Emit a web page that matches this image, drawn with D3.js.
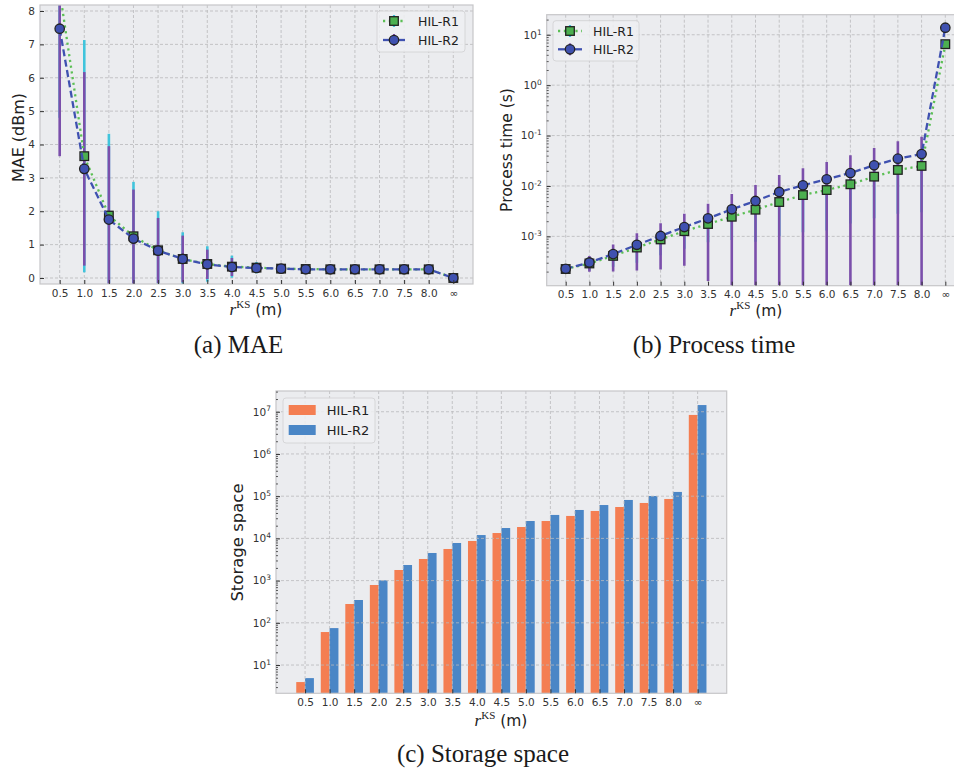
<!DOCTYPE html>
<html lang="en">
<head>
<meta charset="UTF-8">
<title>HIL-R1 / HIL-R2</title>
<script src="https://d3js.org/d3.v7.min.js"></script>
<style>
  body { margin: 0; background: #fff; }
</style>
</head>
<body>
<svg id="canvas" font-family='"DejaVu Sans", sans-serif'></svg>
<script>
// category labels of r^KS
let rLabels = ['0.5','1.0','1.5','2.0','2.5','3.0','3.5','4.0','4.5','5.0','5.5','6.0','6.5','7.0','7.5','8.0','\u221e']

// (a) MAE (dBm), mean and std
let maeR1    = [8.6, 3.65, 1.87, 1.25, 0.83, 0.57, 0.42, 0.34, 0.31, 0.28, 0.27, 0.26, 0.26, 0.26, 0.26, 0.26, 0.0]
let maeR1Std = [3.8, 3.48, 2.45, 1.63, 1.17, 0.80, 0.53, 0.33, 0.17, 0.10, 0.07, 0.05, 0.04, 0.04, 0.04, 0.04, 0.0]
let maeR2    = [7.47, 3.27, 1.75, 1.18, 0.82, 0.57, 0.41, 0.33, 0.30, 0.28, 0.26, 0.26, 0.26, 0.26, 0.26, 0.26, 0.0]
let maeR2Std = [3.82, 2.90, 2.20, 1.47, 0.98, 0.70, 0.44, 0.27, 0.12, 0.08, 0.06, 0.05, 0.04, 0.04, 0.04, 0.04, 0.0]
let maeTicks = [0, 1, 2, 3, 4, 5, 6, 7, 8]

// (b) process time (s), mean and std
let timeR1    = [2.25e-4, 2.9e-4, 4.1e-4, 6.0e-4, 8.7e-4, 1.27e-3, 1.76e-3, 2.45e-3, 3.38e-3, 4.8e-3, 6.6e-3, 8.3e-3, 1.08e-2, 1.53e-2, 2.08e-2, 2.5e-2, 6.5]
let timeR1Std = [0.2e-4, 0.8e-4, 1.6e-4, 3.0e-4, 4.5e-4, 7e-4, 1.0e-3, 1.6e-3, 2.6e-3, 3.8e-3, 5.4e-3, 7e-3, 9e-3, 1.3e-2, 1.8e-2, 2.2e-2, 0.5]
let timeR2    = [2.27e-4, 3.04e-4, 4.45e-4, 6.8e-4, 1.02e-3, 1.53e-3, 2.28e-3, 3.44e-3, 5.04e-3, 7.6e-3, 1.03e-2, 1.36e-2, 1.81e-2, 2.57e-2, 3.48e-2, 4.3e-2, 13.8]
let timeR2Std = [0.2e-4, 1.06e-4, 2.45e-4, 4.7e-4, 0.8e-3, 1.27e-3, 2.15e-3, 3.5e-3, 5.4e-3, 8.9e-3, 1.22e-2, 1.64e-2, 2.24e-2, 3.1e-2, 4.2e-2, 5.2e-2, 1.0]
let timeTicks = [1e-3, 1e-2, 1e-1, 1, 10]

// (c) storage space
let storageR1 = [3.95, 60.5, 279, 787, 1784, 3250, 5610, 8680, 13400, 18600, 25800, 34000, 44600, 55400, 69000, 85900, 8.4e6]
let storageR2 = [4.9, 75, 347, 1016, 2340, 4510, 7780, 12000, 17600, 25800, 35900, 47100, 61700, 81300, 1.01e5, 1.26e5, 1.44e7]
let storageTicks = [10, 1e2, 1e3, 1e4, 1e5, 1e6, 1e7]

let seriesNames = ['HIL-R1', 'HIL-R2']

let width = 954
let height = 771
let bg = '#ebecef'
let gridColor = '#b9b9bb'
let green = '#4caf50'
let greenLine = '#5cbf55'
let blue = '#3f51b0'
let purple = '#7b4fab'
let cyan = '#40c4dc'
let barOrange = '#f47e52'
let barBlue = '#4a86c6'
let serif = '"Liberation Serif", "Times New Roman", serif'

let svg = d3.select('#canvas').attr('width', width).attr('height', height)
let defs = svg.append('defs')

let makeFrame = (id, box) => {
  defs.append('clipPath').attr('id', id)
      .append('rect')
      .attr('x', box.left).attr('y', box.top)
      .attr('width', box.right - box.left).attr('height', box.bottom - box.top)
  let g = svg.append('g')
  g.append('rect')
   .attr('x', box.left).attr('y', box.top)
   .attr('width', box.right - box.left).attr('height', box.bottom - box.top)
   .attr('fill', bg)
  return g
}

let drawSpines = (g, box) => {
  g.append('rect')
   .attr('x', box.left).attr('y', box.top)
   .attr('width', box.right - box.left).attr('height', box.bottom - box.top)
   .attr('fill', 'none').attr('stroke', '#c6c6c8').attr('stroke-width', 1.2)
}

let drawGrid = (g, box, x, y, yTicks, id) => {
  let grid = g.append('g').attr('clip-path', 'url(#' + id + ')')
  grid.selectAll(null).data(d3.range(rLabels.length)).join('line')
      .attr('x1', i => x(i)).attr('x2', i => x(i))
      .attr('y1', box.top).attr('y2', box.bottom)
  grid.selectAll(null).data(yTicks).join('line')
      .attr('x1', box.left).attr('x2', box.right)
      .attr('y1', d => y(d)).attr('y2', d => y(d))
  grid.selectAll('line')
      .attr('stroke', gridColor).attr('stroke-width', 0.8).attr('stroke-dasharray', '3,2')
}

let styleAxis = (a) => {
  a.select('.domain').remove()
  a.attr('font-family', null)
  a.selectAll('.tick line').attr('stroke', '#333').attr('stroke-width', 1)
  a.selectAll('.tick text').attr('fill', '#333').attr('font-size', 10.5)
}

let makeXAxis = (g, box, x, pad) => {
  let a = g.append('g')
           .attr('transform', 'translate(0,' + box.bottom + ')')
           .call(d3.axisBottom(x).tickValues(d3.range(rLabels.length))
                   .tickFormat(i => rLabels[i]).tickSize(-4).tickPadding(pad))
  styleAxis(a)
}

let makeLogYAxis = (g, box, y, ticks) => {
  let [lo, hi] = y.domain()
  let minor = []
  for (let e = Math.floor(Math.log10(lo)); e <= Math.ceil(Math.log10(hi)); e++) {
    for (let m = 2; m < 10; m++) {
      let v = m * Math.pow(10, e)
      if (v >= lo && v <= hi) minor.push(v)
    }
  }
  let am = g.append('g').attr('transform', 'translate(' + box.left + ',0)')
            .call(d3.axisLeft(y).tickValues(minor).tickFormat('').tickSize(-2))
  styleAxis(am)
  am.selectAll('.tick line').attr('stroke-width', 0.8)
  let a = g.append('g').attr('transform', 'translate(' + box.left + ',0)')
           .call(d3.axisLeft(y).tickValues(ticks).tickSize(-4).tickPadding(5))
  styleAxis(a)
  a.selectAll('.tick text').each(function (d) {
    let t = d3.select(this)
    let e = Math.round(Math.log10(d))
    t.text('')
    t.append('tspan').text('10')
    t.append('tspan').attr('font-size', 7.5).attr('dy', '-0.55em').text(e < 0 ? '-' + (-e) : e)
  })
}

let xLabel = (g, cx, yPos) => {
  let t = g.append('text').attr('x', cx).attr('y', yPos).attr('text-anchor', 'middle').attr('fill', '#222')
  t.append('tspan').attr('font-family', serif).attr('font-style', 'italic')
   .attr('font-size', 17).text('r')
  t.append('tspan').attr('font-family', serif)
   .attr('font-size', 11).attr('dy', -7).text('KS')
  t.append('tspan').attr('font-size', 15.5).attr('dy', 7).text('\u00a0(m)')
}

let yLabel = (g, xPos, cy, text, size) => {
  g.append('text')
   .attr('transform', 'translate(' + xPos + ',' + cy + ') rotate(-90)')
   .attr('text-anchor', 'middle').attr('font-size', size).attr('fill', '#222')
   .text(text)
}

let caption = (cx, yPos, text) => {
  svg.append('text').attr('x', cx).attr('y', yPos).attr('text-anchor', 'middle')
     .attr('font-family', serif)
     .attr('font-size', 25).attr('fill', '#1a1a1a')
     .text(text)
}

let errBars = (g, x, y, means, stds, color, floor) => {
  g.selectAll(null).data(means).join('line')
   .attr('x1', (d, i) => x(i)).attr('x2', (d, i) => x(i))
   .attr('y1', (d, i) => y(Math.max(d - stds[i], floor)))
   .attr('y2', (d, i) => y(d + stds[i]))
   .attr('stroke', color).attr('stroke-width', 2.6)
}

let drawSeries = (g, x, y, vals, kind) => {
  let line = d3.line().x((d, i) => x(i)).y(d => y(d))
  g.append('path').datum(vals).attr('d', line).attr('fill', 'none')
   .attr('stroke', kind == 'square' ? greenLine : blue)
   .attr('stroke-width', 2.3)
   .attr('stroke-dasharray', kind == 'square' ? '2.2,3.6' : '7,3.5')
  if (kind == 'square') {
    g.selectAll(null).data(vals).join('rect')
     .attr('x', (d, i) => x(i) - 4.3).attr('y', d => y(d) - 4.3)
     .attr('width', 8.6).attr('height', 8.6)
     .attr('fill', green).attr('stroke', '#222').attr('stroke-width', 1.3)
  } else {
    g.selectAll(null).data(vals).join('circle')
     .attr('cx', (d, i) => x(i)).attr('cy', d => y(d)).attr('r', 4.7)
     .attr('fill', blue).attr('stroke', '#222').attr('stroke-width', 1.3)
  }
}

let lineLegend = (g, lx, ly, w, h, rows, sx0, sx1, tx) => {
  g.append('rect').attr('x', lx).attr('y', ly).attr('width', w).attr('height', h)
   .attr('rx', 3).attr('fill', '#eef0f2').attr('fill-opacity', 0.85)
   .attr('stroke', '#d6d6d8').attr('stroke-width', 1)
  let kinds = ['square', 'circle']
  let errColors = [cyan, purple]
  rows.forEach((ry, k) => {
    let mx = (sx0 + sx1) / 2
    g.append('line').attr('x1', mx).attr('x2', mx).attr('y1', ry - 6).attr('y2', ry + 6)
     .attr('stroke', errColors[k]).attr('stroke-width', 2.2)
    g.append('line').attr('x1', sx0).attr('x2', sx1).attr('y1', ry).attr('y2', ry)
     .attr('stroke', k == 0 ? greenLine : blue).attr('stroke-width', 2.3)
     .attr('stroke-dasharray', k == 0 ? '2.2,3.6' : null)
    if (kinds[k] == 'square') {
      g.append('rect').attr('x', mx - 4.3).attr('y', ry - 4.3).attr('width', 8.6).attr('height', 8.6)
       .attr('fill', green).attr('stroke', '#222').attr('stroke-width', 1.3)
    } else {
      g.append('circle').attr('cx', mx).attr('cy', ry).attr('r', 4.7)
       .attr('fill', blue).attr('stroke', '#222').attr('stroke-width', 1.3)
    }
    g.append('text').attr('x', tx).attr('y', ry).attr('dy', '0.36em')
     .attr('font-size', 12.5).attr('fill', '#222').text(seriesNames[k])
  })
}

// ---------- (a) MAE ----------
let makeMae = () => {
  let box = {left: 40, right: 473, top: 5, bottom: 284}
  let g = makeFrame('clipA', box)
  let x = d3.scaleLinear().domain([-0.8, 16.8]).range([box.left, box.right])
  let y = d3.scaleLinear().domain([-0.18, 8.18]).range([box.bottom, box.top])
  drawGrid(g, box, x, y, maeTicks, 'clipA')
  let plot = g.append('g').attr('clip-path', 'url(#clipA)')
  errBars(plot, x, y, maeR1, maeR1Std, cyan, -1)
  errBars(plot, x, y, maeR2, maeR2Std, purple, -1)
  drawSeries(plot, x, y, maeR1, 'square')
  drawSeries(plot, x, y, maeR2, 'circle')
  drawSpines(g, box)
  makeXAxis(g, box, x, 6)
  let a = g.append('g').attr('transform', 'translate(' + box.left + ',0)')
           .call(d3.axisLeft(y).tickValues(maeTicks).tickSize(-4).tickPadding(5))
  styleAxis(a)
  lineLegend(g, 377, 11, 88, 41, [21, 40], 383, 405, 418)
  xLabel(g, 256, 314.5)
  yLabel(g, 23.5, 137.5, 'MAE (dBm)', 16)
}

// ---------- (b) process time ----------
let makeTime = () => {
  let box = {left: 546.7, right: 964.3, top: 14.7, bottom: 285.7}
  let g = makeFrame('clipB', box)
  let x = d3.scaleLinear().domain([-0.8, 16.8]).range([box.left, box.right])
  let y = d3.scaleLog().domain([1.05e-4, 25]).range([box.bottom, box.top])
  drawGrid(g, box, x, y, timeTicks, 'clipB')
  let plot = g.append('g').attr('clip-path', 'url(#clipB)')
  errBars(plot, x, y, timeR1, timeR1Std, cyan, 1e-5)
  errBars(plot, x, y, timeR2, timeR2Std, purple, 1e-5)
  drawSeries(plot, x, y, timeR1, 'square')
  drawSeries(plot, x, y, timeR2, 'circle')
  drawSpines(g, box)
  makeXAxis(g, box, x, 5)
  makeLogYAxis(g, box, y, timeTicks)
  lineLegend(g, 553, 20.7, 86, 40.3, [31, 49.3], 558, 582, 593)
  xLabel(g, 756, 315.5)
  yLabel(g, 512, 150, 'Process time (s)', 15.5)
}

// ---------- (c) storage space ----------
let makeStorage = () => {
  let box = {left: 276, right: 726.7, top: 391, bottom: 693.3}
  let g = makeFrame('clipC', box)
  let x = d3.scaleLinear().domain([-1.185, 17.185]).range([box.left, box.right])
  let y = d3.scaleLog().domain([2.14, 3.1e7]).range([box.bottom, box.top])
  let bw = x(0.36) - x(0)
  let plot = g.append('g').attr('clip-path', 'url(#clipC)')
  plot.selectAll(null).data(storageR1).join('rect')
      .attr('x', (d, i) => x(i) - bw).attr('width', bw)
      .attr('y', d => y(d)).attr('height', d => box.bottom - y(d))
      .attr('fill', barOrange)
  plot.selectAll(null).data(storageR2).join('rect')
      .attr('x', (d, i) => x(i)).attr('width', bw)
      .attr('y', d => y(d)).attr('height', d => box.bottom - y(d))
      .attr('fill', barBlue)
  drawGrid(g, box, x, y, storageTicks, 'clipC')
  drawSpines(g, box)
  makeXAxis(g, box, x, 5.5)
  makeLogYAxis(g, box, y, storageTicks)

  g.append('rect').attr('x', 283).attr('y', 398).attr('width', 92).attr('height', 45)
   .attr('rx', 3).attr('fill', '#eef0f2').attr('fill-opacity', 0.85)
   .attr('stroke', '#d6d6d8').attr('stroke-width', 1)
  ;[barOrange, barBlue].forEach((c, k) => {
    let ry = 410 + k * 20
    g.append('rect').attr('x', 288.7).attr('y', ry - 5).attr('width', 27).attr('height', 10).attr('fill', c)
    g.append('text').attr('x', 326.7).attr('y', ry).attr('dy', '0.36em')
     .attr('font-size', 13).attr('fill', '#222').text(seriesNames[k])
  })
  xLabel(g, 501, 726)
  yLabel(g, 242.5, 542.5, 'Storage space', 16.5)
}

makeMae()
makeTime()
makeStorage()
caption(238.5, 353, '(a) MAE')
caption(714, 353, '(b) Process time')
caption(483, 762, '(c) Storage space')
</script>
</body>
</html>
